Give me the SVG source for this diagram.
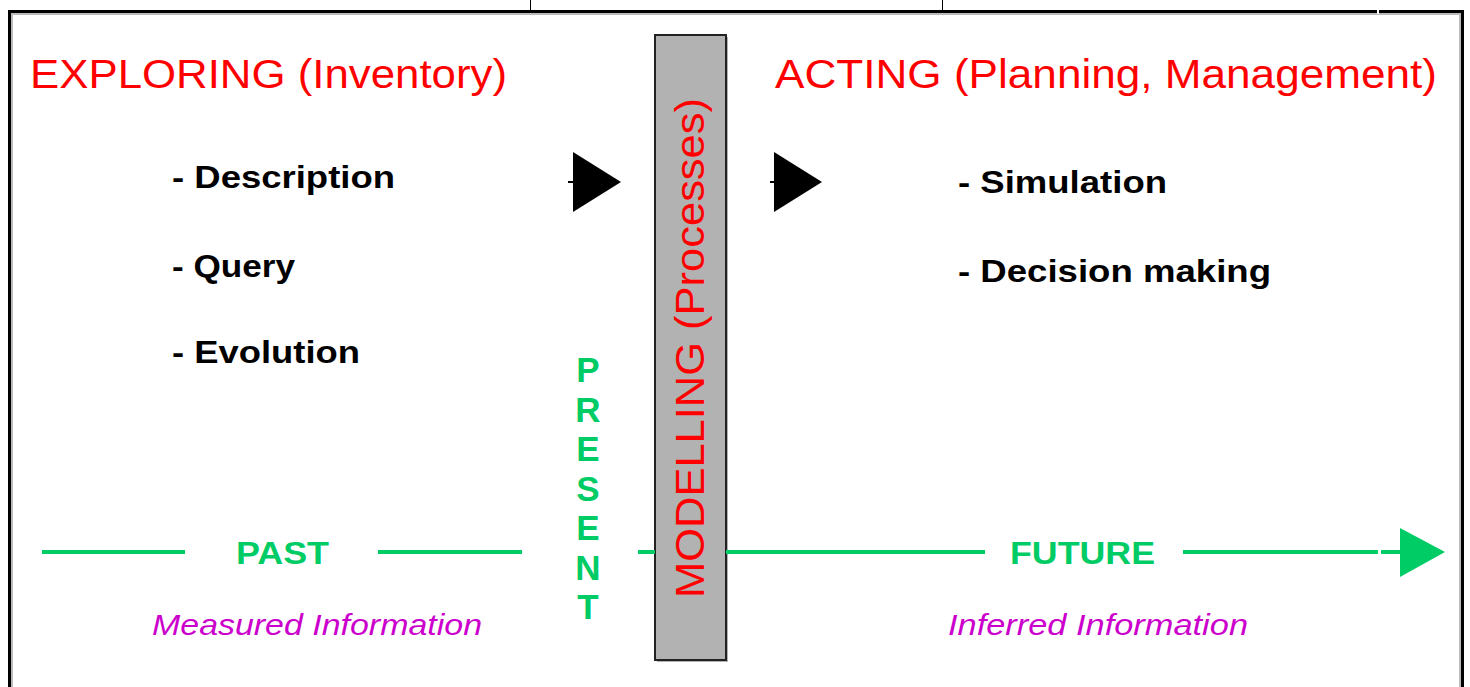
<svg xmlns="http://www.w3.org/2000/svg" width="1470" height="687" viewBox="0 0 1470 687">
<defs>
<style>
.title{font-family:"Liberation Sans",Arial,sans-serif;font-size:40px;fill:#ff0000;}
.item{font-family:"Liberation Sans",Arial,sans-serif;font-size:31px;font-weight:bold;fill:#000;}
.time{font-family:"Liberation Sans",Arial,sans-serif;font-size:31px;font-weight:bold;fill:#00cc66;}
.pres{font-family:"Liberation Sans",Arial,sans-serif;font-size:35px;font-weight:bold;fill:#00cc66;text-anchor:middle;}
.info{font-family:"Liberation Sans",Arial,sans-serif;font-size:30px;font-style:italic;fill:#cc00cc;}
.tl{stroke:#00cc66;stroke-width:4;fill:none;}
</style>
</defs>
<rect x="0" y="0" width="1470" height="687" fill="#fff"/>
<g id="frame">
<line x1="530.5" y1="0" x2="530.5" y2="11" stroke="#000" stroke-width="1"/>
<line x1="942.5" y1="0" x2="942.5" y2="11" stroke="#000" stroke-width="1"/>
<path d="M12 690 V14 H1460 V690" fill="none" stroke="#bbb" stroke-width="2"/>
<path d="M9.5 690 V11.5 H1462.5 V690" fill="none" stroke="#000" stroke-width="3"/>
<line x1="1378" y1="10" x2="1378" y2="14" stroke="#fff" stroke-width="2"/>
</g>
<g id="exploring">
<text class="title" x="30" y="88" textLength="477" lengthAdjust="spacingAndGlyphs">EXPLORING (Inventory)</text>
<text class="item" x="172" y="188" textLength="223" lengthAdjust="spacingAndGlyphs">- Description</text>
<text class="item" x="172" y="277" textLength="123" lengthAdjust="spacingAndGlyphs">- Query</text>
<text class="item" x="172" y="363" textLength="188" lengthAdjust="spacingAndGlyphs">- Evolution</text>
</g>
<g id="acting">
<text class="title" x="775" y="88" textLength="662" lengthAdjust="spacingAndGlyphs">ACTING (Planning, Management)</text>
<text class="item" x="958" y="193" textLength="209" lengthAdjust="spacingAndGlyphs">- Simulation</text>
<text class="item" x="958" y="282" textLength="313" lengthAdjust="spacingAndGlyphs">- Decision making</text>
</g>
<g id="modelling">
<rect x="657" y="37" width="71" height="625" fill="#666" opacity="0.5"/>
<rect x="655" y="35" width="71" height="625" fill="#b2b2b2" stroke="#222" stroke-width="2"/>
<text class="title" transform="translate(704,598) rotate(-90)" x="0" y="0" font-size="42" textLength="500" lengthAdjust="spacingAndGlyphs">MODELLING (Processes)</text>
</g>
<g id="present">
<text class="pres" x="588" y="382">P</text>
<text class="pres" x="588" y="422">R</text>
<text class="pres" x="588" y="461">E</text>
<text class="pres" x="588" y="501">S</text>
<text class="pres" x="588" y="540">E</text>
<text class="pres" x="588" y="580">N</text>
<text class="pres" x="588" y="619">T</text>
</g>
<g id="connectors">
<line x1="568" y1="182" x2="574" y2="182" stroke="#000" stroke-width="2"/>
<polygon points="573,152 621,182 573,212" fill="#000"/>
<line x1="770" y1="182" x2="776" y2="182" stroke="#000" stroke-width="2"/>
<polygon points="774,152 822,182 774,212" fill="#000"/>
<line class="tl" x1="42" y1="552" x2="185" y2="552"/>
<line class="tl" x1="378" y1="552" x2="522" y2="552"/>
<line class="tl" x1="638" y1="552" x2="655" y2="552"/>
<line class="tl" x1="726" y1="552" x2="985" y2="552"/>
<line class="tl" x1="1183" y1="552" x2="1378" y2="552"/>
<line class="tl" x1="1381" y1="552" x2="1402" y2="552"/>
<polygon points="1400,528 1445,552 1400,577" fill="#00cc66"/>
</g>
<g id="timeline-labels">
<text class="time" x="236" y="564" textLength="93" lengthAdjust="spacingAndGlyphs">PAST</text>
<text class="time" x="1010" y="564" textLength="145" lengthAdjust="spacingAndGlyphs">FUTURE</text>
<text class="info" x="152" y="635" textLength="330" lengthAdjust="spacingAndGlyphs">Measured Information</text>
<text class="info" x="948" y="635" textLength="300" lengthAdjust="spacingAndGlyphs">Inferred Information</text>
</g>
</svg>
